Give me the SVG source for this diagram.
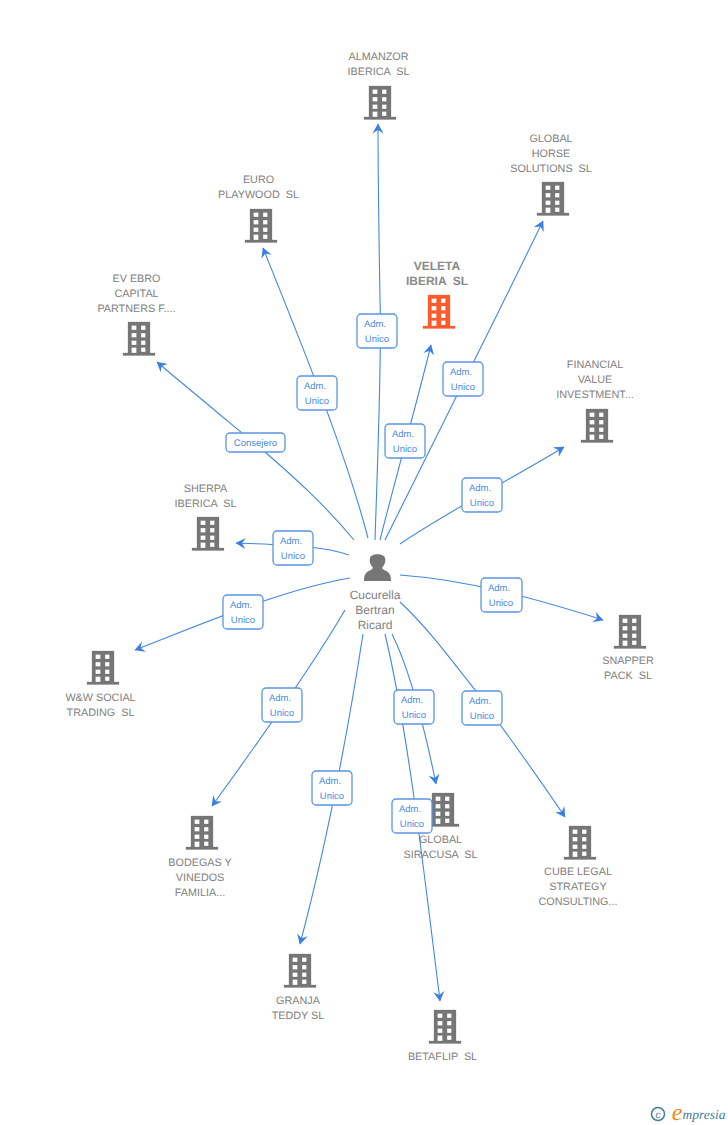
<svg xmlns="http://www.w3.org/2000/svg" width="728" height="1125" viewBox="0 0 728 1125">
<style>
text{font-family:"Liberation Sans",Arial,sans-serif;text-anchor:middle;white-space:pre;text-rendering:geometricPrecision}
.n{font-size:10.800px;fill:#808080}
.b{font-size:12px;font-weight:bold;fill:#8a8a8a}
.p{font-size:12px;fill:#808080}
.l{font-size:9.500px;fill:#4a8ae0}
.lb{fill:#fff;stroke:#5a95e4;stroke-width:1.3}
.c{fill:none;stroke:#4287e0;stroke-width:1.100;marker-end:url(#a)}
</style>
<defs>
<marker id="a" markerUnits="userSpaceOnUse" markerWidth="14" markerHeight="14" refX="9.500" refY="6" orient="auto"><path d="M0 0.500L10 6L0 11.500L3.500 6Z" fill="#3a80de"/></marker>
<symbol id="bd" width="32" height="34" viewBox="0 0 32 34" overflow="visible">
<path fill-rule="evenodd" stroke-width="0.6" stroke-opacity="0.45" d="M5 0H27V31H32V33.500H0V31H5ZM8.500 3.500V8H13.500V3.500ZM18 3.500V8H22.500V3.500ZM8.500 11V15.500H13.500V11ZM18 11V15.500H22.500V11ZM8.500 18.500V23H13.500V18.500ZM18 18.500V23H22.500V18.500ZM8.500 25.500V31H13.500V25.500ZM18 25.500V30H22.500V25.500Z"/>
</symbol>
</defs>
<g id="connectors">
<path class="c" d="M375 540C378 450 382 350 380 300C379 240 378 180 378 124"/>
<path class="c" d="M380 540C395 480 415 410 431 345"/>
<path class="c" d="M385 540C430 450 490 330 543 221"/>
<path class="c" d="M368 538C345 450 300 340 263 248"/>
<path class="c" d="M354 540C325 505 295 478 265 452C235 427 190 390 157 362"/>
<path class="c" d="M400 544C450 510 510 480 564 447"/>
<path class="c" d="M349 555C320 545 280 545 236 543"/>
<path class="c" d="M350 578C280 590 200 625 135 650"/>
<path class="c" d="M400 575C470 580 540 600 603 620"/>
<path class="c" d="M345 610C310 670 260 740 212 806"/>
<path class="c" d="M363 634C345 750 325 850 300 944"/>
<path class="c" d="M392 634C410 670 425 730 436 784"/>
<path class="c" d="M385 634C408 730 425 880 440 1001"/>
<path class="c" d="M400 602C430 630 455 665 476 691C505 732 535 772 565 817"/>
</g>
<g id="labels">
<rect class="lb" x="357" y="314" width="40" height="34" rx="4"/><text class="l" x="375" y="327">Adm.</text><text class="l" x="377" y="342">Unico</text>
<rect class="lb" x="297" y="376" width="40" height="34" rx="4"/><text class="l" x="315" y="389">Adm.</text><text class="l" x="317" y="404">Unico</text>
<rect class="lb" x="385" y="424" width="40" height="34" rx="4"/><text class="l" x="403" y="437">Adm.</text><text class="l" x="405" y="452">Unico</text>
<rect class="lb" x="443" y="362" width="40" height="34" rx="4"/><text class="l" x="461" y="375">Adm.</text><text class="l" x="463" y="390">Unico</text>
<rect class="lb" x="226" y="433" width="59" height="19" rx="4"/><text class="l" x="255.500" y="446">Consejero</text>
<rect class="lb" x="462" y="478" width="40" height="34" rx="4"/><text class="l" x="480" y="491">Adm.</text><text class="l" x="482" y="506">Unico</text>
<rect class="lb" x="273" y="531" width="40" height="34" rx="4"/><text class="l" x="291" y="544">Adm.</text><text class="l" x="293" y="559">Unico</text>
<rect class="lb" x="481" y="578" width="41" height="34" rx="4"/><text class="l" x="499" y="591">Adm.</text><text class="l" x="501" y="606">Unico</text>
<rect class="lb" x="223" y="595" width="40" height="34" rx="4"/><text class="l" x="241" y="608">Adm.</text><text class="l" x="243" y="623">Unico</text>
<rect class="lb" x="262" y="688" width="40" height="34" rx="4"/><text class="l" x="280" y="701">Adm.</text><text class="l" x="282" y="716">Unico</text>
<rect class="lb" x="394" y="690" width="40" height="34" rx="4"/><text class="l" x="412" y="703">Adm.</text><text class="l" x="414" y="718">Unico</text>
<rect class="lb" x="462" y="691" width="40" height="34" rx="4"/><text class="l" x="480" y="704">Adm.</text><text class="l" x="482" y="719">Unico</text>
<rect class="lb" x="312" y="771" width="40" height="34" rx="4"/><text class="l" x="330" y="784">Adm.</text><text class="l" x="332" y="799">Unico</text>
</g>
<g id="n-almanzor"><use href="#bd" x="364" y="86" fill="#767676" stroke="#767676"/><text class="n" x="378.500" y="60">ALMANZOR</text><text class="n" x="378.500" y="75">IBERICA  SL</text></g>
<g id="n-horse"><use href="#bd" x="537" y="182" fill="#767676" stroke="#767676"/><text class="n" x="551" y="142">GLOBAL</text><text class="n" x="551" y="157">HORSE</text><text class="n" x="551" y="172">SOLUTIONS  SL</text></g>
<g id="n-euro"><use href="#bd" x="245" y="209" fill="#767676" stroke="#767676"/><text class="n" x="258.500" y="183">EURO</text><text class="n" x="258.500" y="198">PLAYWOOD  SL</text></g>
<g id="n-veleta"><use href="#bd" x="423" y="295" fill="#ff5a2c" stroke="#ff5a2c"/><text class="b" x="437" y="270">VELETA</text><text class="b" x="437" y="285">IBERIA  SL</text></g>
<g id="n-ebro"><use href="#bd" x="123" y="322" fill="#767676" stroke="#767676"/><text class="n" x="136.500" y="282">EV EBRO</text><text class="n" x="136.500" y="297">CAPITAL</text><text class="n" x="136.500" y="312">PARTNERS F....</text></g>
<g id="n-financial"><use href="#bd" x="581" y="409" fill="#767676" stroke="#767676"/><text class="n" x="595" y="368">FINANCIAL</text><text class="n" x="595" y="383">VALUE</text><text class="n" x="595" y="398">INVESTMENT...</text></g>
<g id="n-sherpa"><use href="#bd" x="192" y="517" fill="#767676" stroke="#767676"/><text class="n" x="205.500" y="492">SHERPA</text><text class="n" x="205.500" y="507">IBERICA  SL</text></g>
<g id="n-person"><path fill="#767676" d="M364 581C364 574 366 572 371 570L373 568C370 564 369 561 370 558C371 553 384 553 385 558C386 561 385 564 382 568L384 570C389 572 391 574 391 581Z"/><text class="p" x="375" y="599">Cucurella</text><text class="p" x="375" y="614">Bertran</text><text class="p" x="375" y="629">Ricard</text></g>
<g id="n-ww"><use href="#bd" x="87" y="651" fill="#767676" stroke="#767676"/><text class="n" x="100.500" y="701">W&amp;W SOCIAL</text><text class="n" x="100.500" y="716">TRADING  SL</text></g>
<g id="n-snapper"><use href="#bd" x="614" y="615" fill="#767676" stroke="#767676"/><text class="n" x="628" y="664">SNAPPER</text><text class="n" x="628" y="679">PACK  SL</text></g>
<g id="n-bodegas"><use href="#bd" x="186" y="816" fill="#767676" stroke="#767676"/><text class="n" x="200" y="866">BODEGAS Y</text><text class="n" x="200" y="881">VINEDOS</text><text class="n" x="200" y="896">FAMILIA...</text></g>
<g id="n-siracusa"><use href="#bd" x="427" y="793" fill="#767676" stroke="#767676"/><text class="n" x="440.500" y="843">GLOBAL</text><text class="n" x="440.500" y="858">SIRACUSA  SL</text></g>
<g id="n-cube"><use href="#bd" x="564" y="826" fill="#767676" stroke="#767676"/><text class="n" x="578" y="875">CUBE LEGAL</text><text class="n" x="578" y="890">STRATEGY</text><text class="n" x="578" y="905">CONSULTING...</text></g>
<g id="n-granja"><use href="#bd" x="284" y="954" fill="#767676" stroke="#767676"/><text class="n" x="298" y="1004">GRANJA</text><text class="n" x="298" y="1019">TEDDY SL</text></g>
<g id="n-betaflip"><use href="#bd" x="429" y="1010" fill="#767676" stroke="#767676"/><text class="n" x="442.500" y="1060">BETAFLIP  SL</text></g>
<g id="label-top"><rect class="lb" x="392" y="799" width="40" height="34" rx="4"/><text class="l" x="410" y="812">Adm.</text><text class="l" x="412" y="827">Unico</text></g>
<g id="logo"><circle cx="658" cy="1114" r="6.500" fill="none" stroke="#3e7f96" stroke-width="1.500"/><text x="658" y="1117.500" font-size="10" fill="#3e7f96">c</text><text x="677" y="1120" font-size="24" fill="#f08a1d" style="font-family:'Liberation Serif',serif;font-style:italic">e</text><text x="704" y="1119" font-size="13.500" fill="#3e7f96" style="font-family:'Liberation Serif',serif;font-style:italic">mpresia</text></g>
</svg>
